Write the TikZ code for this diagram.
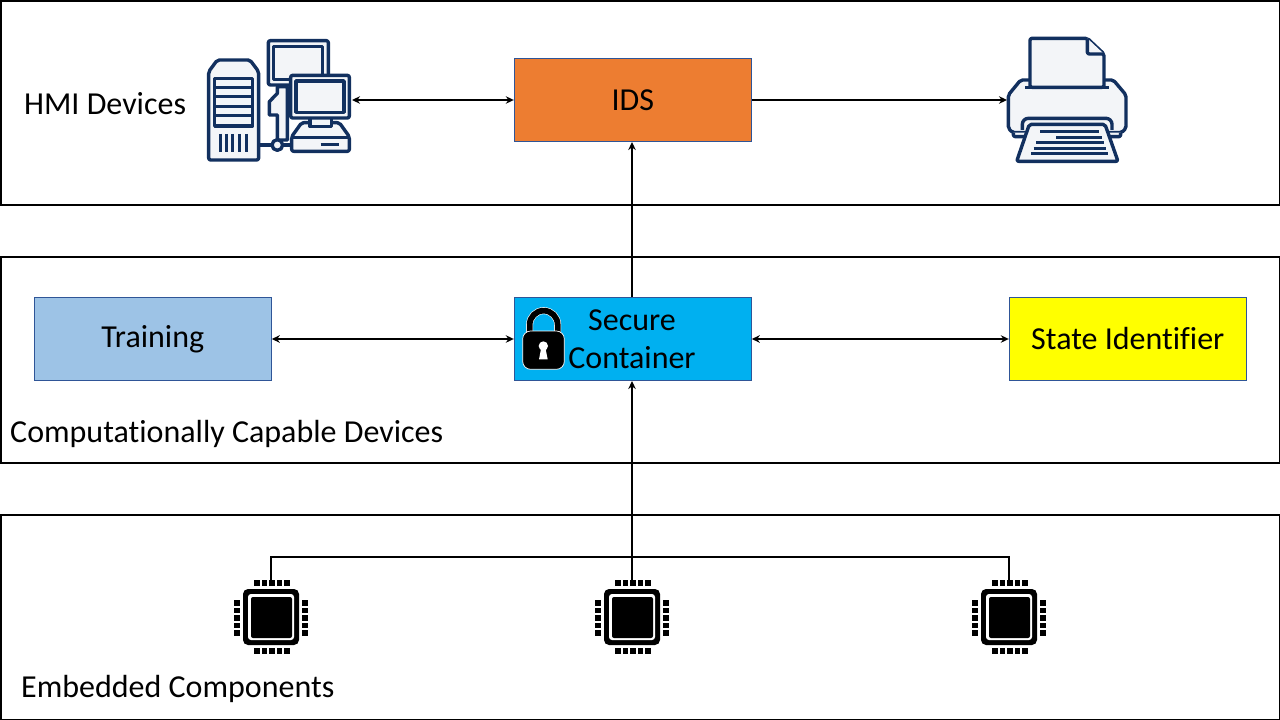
\documentclass[tikz,border=0pt]{standalone}
\usepackage{fontspec}
\setmainfont[Ligatures=NoCommon]{Carlito}
\usetikzlibrary{arrows.meta}
\definecolor{icon}{HTML}{12305F}
\definecolor{iconfill}{HTML}{F3F5F8}
\definecolor{edgeblue}{HTML}{2F5597}
\definecolor{idsorange}{HTML}{ED7D31}
\definecolor{trainblue}{HTML}{9DC3E6}
\definecolor{securecyan}{HTML}{00B0F0}
\definecolor{stateyellow}{HTML}{FFFF00}
\tikzset{
  x=1pt,y=-1pt,
  panel/.style={draw=black,line width=1.5pt,fill=white},
  blockbox/.style={draw=edgeblue,fill=#1,line width=0.8pt,minimum width=237.2pt,minimum height=83.2pt,inner sep=0pt,text=black,font=\fontsize{32}{38}\selectfont,align=center},
  lbl/.style={anchor=west,inner sep=0pt,font=\fontsize{32}{38}\selectfont},
  link/.style={draw=black,line width=1.5pt},
  conn/.style={link,{Stealth[length=8pt,width=7.5pt]}-{Stealth[length=8pt,width=7.5pt]}},
  connr/.style={link,-{Stealth[length=8pt,width=7.5pt]}},
  ic/.style={draw=icon,line width=3.4pt,fill=iconfill,line join=round},
  icl/.style={draw=icon,line width=3pt,line cap=butt},
}
\newcommand{\chipicon}[2]{%
  \begin{scope}[shift={(#1,#2)}]
    \fill[black,rounded corners=5pt] (-28,-28) rectangle (28,28);
    \fill[white,rounded corners=3pt] (-23,-23) rectangle (23,23);
    \fill[black,rounded corners=2pt] (-20,-20) rectangle (21,21);
    \foreach \t in {-17,-9.5,-2,5.5,13}{
      \fill[black] (\t,-37) rectangle ++(5.5,6);
      \fill[black] (\t,31) rectangle ++(5.5,6);
      \fill[black] (-37,\t) rectangle ++(6,5.5);
      \fill[black] (31,\t) rectangle ++(6,5.5);
    }
  \end{scope}}
\begin{document}
\begin{tikzpicture}
\useasboundingbox (0,0) rectangle (1280,720);
\fill[white] (0,0) rectangle (1280,720);
\draw[panel] (0.75,0.75) rectangle (1279.25,205);
\draw[panel] (0.75,257) rectangle (1279.25,463);
\draw[panel] (0.75,515) rectangle (1279.25,719.25);

\node[lbl] (hmilabel) at (24,104) {HMI Devices};
\node[lbl] (cclabel) at (10,434) {Computationally Capable Devices};
\node[lbl] (emblabel) at (21,689) {Embedded Components};

\node[blockbox=idsorange] (ids) at (632.8,100) {IDS};
\node[blockbox=trainblue] (training) at (152.8,339) {Training};
\node[blockbox=securecyan] (secure) at (632.8,339) {};
\node[blockbox=stateyellow] (state) at (1127.8,339) {State Identifier};
\node[inner sep=0pt,align=center,font=\fontsize{32}{38}\selectfont] (securetext) at (632,339) {Secure\\Container};

% HMI icon
\begin{scope}[shift={(190,30)},scale=1/3]
  \draw[ic] (262,170) -- (262,190) -- (238,215) -- (238,255) -- (262,255) -- (262,330) -- (292,330) -- (292,170) -- cycle;
  \draw[ic] (205,345) -- (310,345);
  \draw[ic,rounded corners=2pt] (235,32) rectangle (415,165);
  \draw[ic] (250,50) rectangle (398,148);
  \draw[ic,rounded corners=2pt] (56,125) -- (82,90) -- (180,90) -- (206,125) -- (206,390) -- (56,390) -- cycle;
  \draw[ic] (74,146) rectangle (188,288);
  \foreach \yy in {172,200,228,256}{\draw[icl] (74,\yy) -- (188,\yy);}
  \foreach \xx in {92,110,128,148,168}{\draw[icl] (\xx,312) -- (\xx,366);}
  \draw[ic,rounded corners=2pt] (335,278) -- (305,320) -- (305,364) -- (478,364) -- (478,320) -- (448,278) -- cycle;
  \draw[ic] (305,322) -- (478,322);
  \draw[icl] (392,344) -- (446,344);
  \draw[ic] (360,262) -- (360,290) -- (424,290) -- (424,262);
  \draw[ic,rounded corners=2pt] (302,136) rectangle (478,264);
  \draw[ic] (318,153) rectangle (462,247);
  \draw[ic] (262,345) circle (16);
\end{scope}
\coordinate (hmi) at (352,100);

% Printer icon
\begin{scope}[shift={(990,30)},scale=1/3]
  \draw[ic,rounded corners=2pt] (55,195) -- (92,150) -- (370,150) -- (408,195) -- (408,295) -- (395,308) -- (68,308) -- (55,295) -- cycle;
  \draw[ic,rounded corners=2pt] (70,308) -- (70,320) -- (392,320) -- (392,308);
  \draw[ic,rounded corners=2pt] (120,25) -- (292,25) -- (342,72) -- (342,172) -- (120,172) -- cycle;
  \draw[ic,rounded corners=2pt] (292,25) -- (292,72) -- (342,72);
  \draw[ic] (105,172) -- (358,172);
  \draw[ic,rounded corners=6pt] (97,300) -- (97,265) -- (366,265) -- (366,300);
  \draw[ic,rounded corners=2pt] (118,283) -- (345,283) -- (384,394) -- (80,394) -- cycle;
  \draw[icl] (150,305) -- (328,305);
  \draw[icl] (198,322) -- (335,322);
  \draw[icl] (138,338) -- (342,338);
  \draw[icl] (131,355) -- (348,355);
  \draw[icl] (124,372) -- (354,372);
\end{scope}
\coordinate (printer) at (1007,100);

% Lock icon
\begin{scope}[shift={(510,290)},scale=1/3]
  \draw[white,line width=7pt] (59,130) -- (59,104) arc[start angle=180,end angle=360,x radius=42,y radius=42] -- (143,130);
  \draw[black,line width=5.8pt] (59,130) -- (59,104) arc[start angle=180,end angle=360,x radius=42,y radius=42] -- (143,130);
  \filldraw[draw=white,fill=black,line width=0.7pt,rounded corners=8pt] (38,123) -- (163,123) -- (163,238) -- (38,238) -- cycle;
  \fill[white] (100,168) circle (14);
  \fill[white] (94,172) -- (106,172) -- (113,208) -- (87,208) -- cycle;
\end{scope}

% Chips
\chipicon{271}{617}
\chipicon{632}{617}
\chipicon{1009}{617}
\coordinate (chipa) at (271,580);
\coordinate (chipb) at (632,580);
\coordinate (chipc) at (1009,580);
\coordinate (bus) at (632,557);

% Connectors
\draw[conn] (hmi) -- (ids.west |- hmi);
\draw[connr] (ids.east |- printer) -- (printer);
\draw[connr] (secure.north -| chipb) -- (ids.south -| chipb);
\draw[conn] (training.east) -- (secure.west);
\draw[conn] (secure.east) -- (state.west);
\draw[connr] (chipb) -- (secure.south -| chipb);
\draw[link] (chipa) |- (bus) -| (chipc);
\end{tikzpicture}
\end{document}
